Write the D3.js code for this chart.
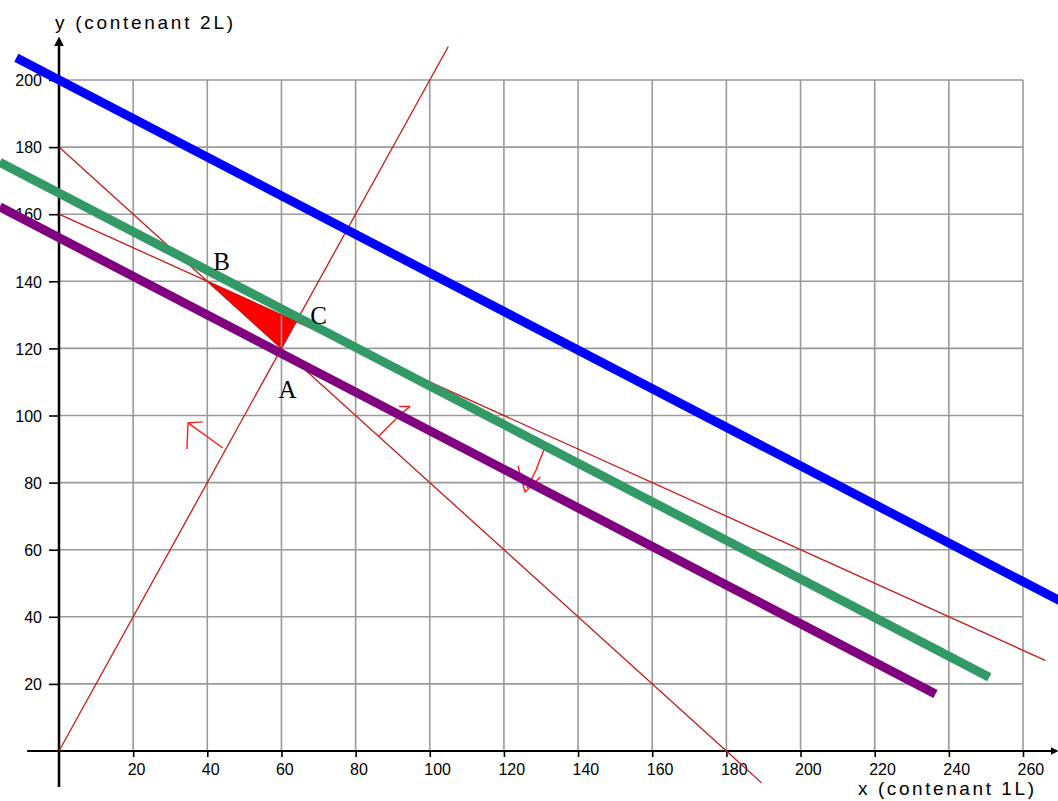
<!DOCTYPE html>
<html><head><meta charset="utf-8">
<script src="https://cdn.jsdelivr.net/npm/d3@7"></script>
<style>
html,body{margin:0;padding:0;background:#fff;}
svg{display:block;}
</style></head>
<body>
<script>
// ---- data ----
const xTicks = [20,40,60,80,100,120,140,160,180,200,220,240,260];
const yTicks = [20,40,60,80,100,120,140,160,180,200];
const xTitle = "x (contenant 1L)";
const yTitle = "y (contenant 2L)";
// constraint lines (thin red)
const constraintA = [[0,0],[105,210]];          // y = 2x
const constraintB = [[0,180],[189.5,-9.5]];     // x + y = 180
const constraintC = [[0,160],[266,27]];         // x + 2y = 320
// feasible region (triangle)
const feasible = [[40,140],[60,120],[64,128]];
const vertexNames = ["B","A","C"];
const vertexPts = [[40,140],[60,120],[64,128]];
// objective iso-lines
const isoBlue = [[-11.5,206.6],[272,43.6]];
const isoGreen = [[-16,175.5],[250.9,22]];
const isoPurple = [[-16,162.2],[236.4,17]];
// hand-drawn direction arrows (data coords)
const arrow1 = [[[44.2,90.3],[34.8,97.8]],[[34.5,90],[34.8,97.8],[38.8,98.1]]];
const arrow2 = [[[86.1,93.7],[89.5,97.5],[92.5,100.7],[94.7,102.7]],[[91.7,102.7],[94.7,102.7]]];
const arrow3 = [[[131.1,90.6],[129.6,86.5],[128.7,83.8],[127.4,81],[126.2,78.4]],[[123.8,84.9],[125.7,77.2],[129.8,81.7]]];
// axis extents
const xAxisExtent = [-8.6,268.5];
const yAxisExtent = [-10.7,211.5];

// ---- chart ----
const W = 1058, H = 801;
const svg = d3.select("body").append("svg").attr("width",W).attr("height",H);
const x = d3.scaleLinear().domain([0,260]).range([59,1023]);
const y = d3.scaleLinear().domain([0,200]).range([751,80]);
const line = d3.line().x(d=>x(d[0])).y(d=>y(d[1]));

svg.append("defs").append("marker")
  .attr("id","arr").attr("viewBox","0 0 10 10").attr("refX",5).attr("refY",5)
  .attr("markerWidth",4).attr("markerHeight",4).attr("orient","auto")
  .append("path").attr("d","M0,0L10,5L0,10z").attr("fill","#000");

// feasible triangle
svg.append("path").attr("d", line(feasible)+"Z").attr("fill","#ff0000").attr("stroke","#ff0000").attr("stroke-width",1);

// grid
const grid = svg.append("g");
grid.selectAll("line.v").data(xTicks).join("line")
  .attr("x1",d=>x(d)).attr("x2",d=>x(d)).attr("y1",y(200)).attr("y2",y(0))
  .attr("stroke","#9a9a9a").attr("stroke-width",1.6);
grid.selectAll("line.h").data(yTicks).join("line")
  .attr("x1",x(0)).attr("x2",x(260)).attr("y1",d=>y(d)).attr("y2",d=>y(d))
  .attr("stroke","#9a9a9a").attr("stroke-width",1.6);

// axes with ticks
const gx = svg.append("g").attr("transform",`translate(0,${y(0)})`)
  .call(d3.axisBottom(x).tickValues(xTicks).tickSize(6).tickPadding(5));
gx.select(".domain").remove();
gx.selectAll(".tick line").attr("stroke","#000").attr("stroke-width",1.6);
gx.selectAll(".tick text").attr("font-family","'Liberation Sans',Arial,sans-serif")
  .attr("font-size",16).attr("text-anchor","start").attr("dx",-6).attr("dy",0).attr("y",24).attr("fill","#000");

const gy = svg.append("g").attr("transform",`translate(${x(0)},0)`)
  .call(d3.axisLeft(y).tickValues(yTicks).tickSize(10).tickPadding(8));
gy.select(".domain").remove();
gy.selectAll(".tick line").attr("stroke","#000").attr("stroke-width",1.6);
gy.selectAll(".tick text").attr("font-family","'Liberation Sans',Arial,sans-serif")
  .attr("font-size",16).attr("x",-17).attr("dy","0.36em").attr("fill","#000");

// axis lines
svg.append("line").attr("x1",x(xAxisExtent[0])).attr("x2",x(xAxisExtent[1]))
  .attr("y1",y(0)).attr("y2",y(0)).attr("stroke","#000").attr("stroke-width",2)
  .attr("marker-end","url(#arr)");
svg.append("line").attr("x1",x(0)).attr("x2",x(0))
  .attr("y1",y(yAxisExtent[0])).attr("y2",y(yAxisExtent[1])).attr("stroke","#000").attr("stroke-width",2.5)
  .attr("marker-end","url(#arr)");

// constraint lines
[constraintA,constraintB,constraintC].forEach(c=>{
  svg.append("path").attr("d",line(c)).attr("fill","none")
    .attr("stroke","#c41a1a").attr("stroke-width",1.3);
});

// arrows
[arrow1,arrow2,arrow3].forEach(a=>{
  a.forEach(seg=>{
    svg.append("path").attr("d",line(seg)).attr("fill","none")
      .attr("stroke","#ff1a1a").attr("stroke-width",1.4).attr("stroke-linejoin","round");
  });
});

// iso lines
[[isoBlue,"#0000ff"],[isoGreen,"#339966"],[isoPurple,"#800080"]].forEach(([pts,col])=>{
  svg.append("path").attr("d",line(pts)).attr("fill","none")
    .attr("stroke",col).attr("stroke-width",9).attr("stroke-linecap","butt");
});

// vertex labels
const labelOffsets = {B:[6,-11],A:[-3,50],C:[14,2]};
svg.selectAll("text.vl").data(vertexNames).join("text")
  .attr("x",(d,i)=>x(vertexPts[i][0])+labelOffsets[d][0])
  .attr("y",(d,i)=>y(vertexPts[i][1])+labelOffsets[d][1])
  .attr("font-family","'Liberation Serif','Times New Roman',serif")
  .attr("font-size",25).attr("fill","#000").text(d=>d);

// titles
svg.append("text").attr("x",55).attr("y",29)
  .attr("font-family","'Liberation Sans',Arial,sans-serif").attr("font-size",19)
  .attr("textLength",178).attr("lengthAdjust","spacing").text(yTitle);
svg.append("text").attr("x",858).attr("y",795)
  .attr("font-family","'Liberation Sans',Arial,sans-serif").attr("font-size",19)
  .attr("textLength",176).attr("lengthAdjust","spacing").text(xTitle);
</script>
</body></html>
